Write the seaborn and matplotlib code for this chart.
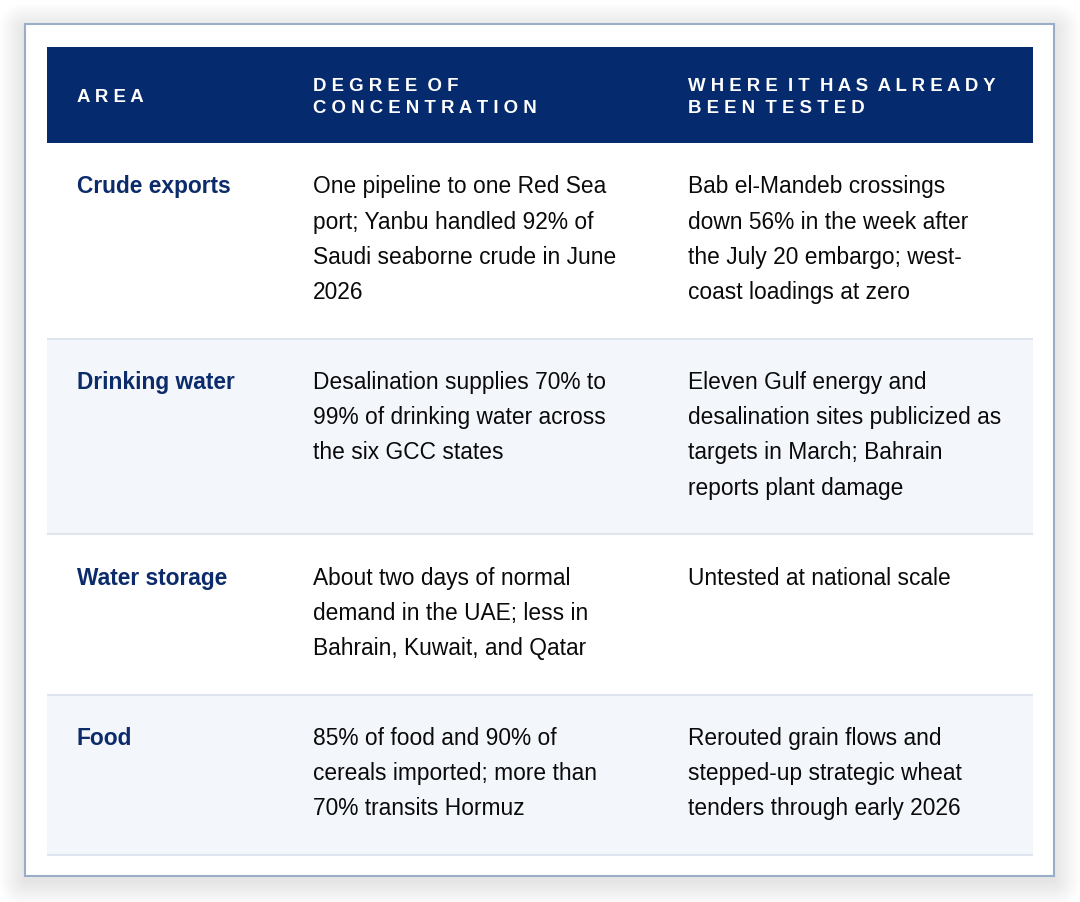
import matplotlib
matplotlib.use("Agg")
import matplotlib.pyplot as plt
import seaborn as sns
from matplotlib.patches import Rectangle, FancyBboxPatch

# --- Table content ---
headers = ["AREA", "DEGREE OF\nCONCENTRATION", "WHERE IT HAS ALREADY\nBEEN TESTED"]

areas = ["Crude exports", "Drinking water", "Water storage", "Food"]

concentration = [
    "One pipeline to one Red Sea\nport; Yanbu handled 92% of\nSaudi seaborne crude in June\n2026",
    "Desalination supplies 70% to\n99% of drinking water across\nthe six GCC states",
    "About two days of normal\ndemand in the UAE; less in\nBahrain, Kuwait, and Qatar",
    "85% of food and 90% of\ncereals imported; more than\n70% transits Hormuz",
]

tested = [
    "Bab el-Mandeb crossings\ndown 56% in the week after\nthe July 20 embargo; west-\ncoast loadings at zero",
    "Eleven Gulf energy and\ndesalination sites publicized as\ntargets in March; Bahrain\nreports plant damage",
    "Untested at national scale",
    "Rerouted grain flows and\nstepped-up strategic wheat\ntenders through early 2026",
]

# --- Style ---
sns.set_theme(style="white")
plt.rcParams['font.family'] = ['Liberation Sans', 'DejaVu Sans']

navy = "#052a6e"
label_col = "#0b2b6b"
body_col = "#0a0a0a"
stripe = "#f3f6fb"
rule = "#dfe5ee"

W, H = 1080, 903
fig = plt.figure(figsize=(W / 100, H / 100), dpi=100)
ax = fig.add_axes([0, 0, 1, 1])
ax.set_xlim(0, W)
ax.set_ylim(H, 0)
ax.axis('off')

# card with soft shadow
cx0, cy0, cx1, cy1 = 25, 25, 1054, 877
for i in range(26, 0, -1):
    ax.add_patch(FancyBboxPatch((cx0 - i, cy0 - i + 5), cx1 - cx0 + 2 * i, cy1 - cy0 + 2 * i,
                                boxstyle="round,pad=0,rounding_size=%d" % (i + 2),
                                fc="#000000", ec="none", alpha=0.0022, zorder=1))
ax.add_patch(Rectangle((cx0, cy0), cx1 - cx0, cy1 - cy0, fc="white", ec="#9badc6", lw=1.5, zorder=2))

tx0, tx1 = 47, 1033
col_x = [77, 313, 688]

# header
hy0, hy1 = 48, 144
ax.add_patch(Rectangle((tx0, hy0), tx1 - tx0, hy1 - hy0, fc=navy, ec="none", zorder=3))


def spaced(s):
    # widen letter spacing by putting a space between letters
    return "\n".join("  ".join(" ".join(w) for w in line.split(" ")) for line in s.split("\n"))


hfs = 18.6 * 0.72
for x, h in zip(col_x, headers):
    lines = spaced(h).split("\n")
    n = len(lines)
    base0 = 101.5 if n == 1 else 90.7
    for k, ln in enumerate(lines):
        ax.text(x, base0 + k * 22.6, ln, color="white", fontsize=hfs, fontweight="bold",
                va="baseline", ha="left", zorder=4)

# body rows
fs = 22.8 * 0.72
pitch = 35.2
y = hy1
for r, (a, c, t) in enumerate(zip(areas, concentration, tested)):
    nl = max(len(c.split("\n")), len(t.split("\n")), 1)
    rh = 90 + (nl - 1) * pitch
    if r % 2 == 1:
        ax.add_patch(Rectangle((tx0, y), tx1 - tx0, rh, fc=stripe, ec="none", zorder=3))
    ax.plot([tx0, tx1], [y + rh, y + rh], color=rule, lw=1.5, zorder=4, solid_capstyle="butt")
    base = y + 49.5
    ax.text(col_x[0], base, a, color=label_col, fontsize=fs, fontweight="bold",
            va="baseline", ha="left", zorder=5)
    for x, txt in ((col_x[1], c), (col_x[2], t)):
        for k, ln in enumerate(txt.split("\n")):
            ax.text(x, base + k * pitch, ln, color=body_col, fontsize=fs,
                    va="baseline", ha="left", zorder=5)
    y += rh

fig.savefig("out.png", dpi=100, facecolor="white")
